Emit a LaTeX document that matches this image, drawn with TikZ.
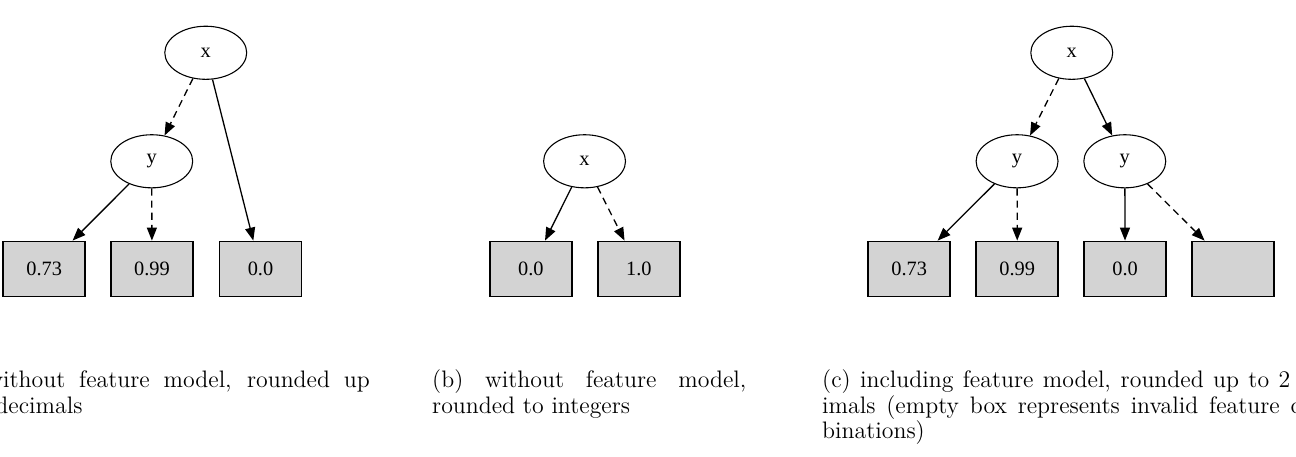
\documentclass[tikz,border=0pt]{standalone}
\usepackage{fontspec}
\newfontfamily\gvfont{Liberation Serif}
\usetikzlibrary{positioning,arrows.meta,shapes.geometric}
\definecolor{leafgray}{RGB}{211,211,211}

\begin{document}
\begin{tikzpicture}[
    var/.style ={draw, ellipse, line width=0.5pt, minimum width=37.8pt, minimum height=24.5pt,
                 inner sep=0pt, font=\gvfont\fontsize{9.4}{11}\selectfont},
    leaf/.style={draw, fill=leafgray, line width=0.8pt, minimum width=37.8pt, minimum height=25.4pt,
                 inner sep=0pt, font=\gvfont\fontsize{9.4}{11}\selectfont},
    hi/.style  ={-{Triangle[length=6pt, width=4.6pt]}, line width=0.6pt},
    lo/.style  ={hi, dash pattern=on 3.3pt off 2.3pt},
    sub/.style ={anchor=base west, inner sep=0pt, font=\fontsize{11}{13.6}\selectfont}
  ]
    \useasboundingbox (0,0) rectangle (21.02,7.396);
    \clip (0,0) rectangle (21.02,7.396);

    % (a) without feature model, 2 decimals
    \node[var] (xa) at (3.337,6.54) {x};
    \node[var] (ya) at (2.461,4.78) {y};
    \node[leaf] (a1) at (0.717,3.033) {0.73};
    \node[leaf] (a2) at (2.465,3.033) {0.99};
    \node[leaf] (a3) at (4.225,3.033) {0.0};

    % (b) without feature model, integers
    \node[var] (xb) at (9.481,4.78) {x};
    \node[leaf] (b1) at (8.610,3.033) {0.0};
    \node[leaf] (b2) at (10.361,3.033) {1.0};

    % (c) including feature model
    \node[var] (xc) at (17.383,6.54) {x};
    \node[var] (yc1) at (16.496,4.78) {y};
    \node[var] (yc2) at (18.243,4.78) {y};
    \node[leaf] (c1) at (14.747,3.033) {0.73};
    \node[leaf] (c2) at (16.499,3.033) {0.99};
    \node[leaf] (c3) at (18.248,3.033) {0.0};
    \node[leaf] (c4) at (20.0,3.033) {};

    \foreach \a/\b in {xa/a3, ya/a1, xb/b1, xc/yc2, yc1/c1, yc2/c3} \draw[hi] (\a) -- (\b);
    \foreach \a/\b in {xa/ya, ya/a2, xb/b2, xc/yc1, yc1/c2, yc2/c4} \draw[lo] (\a) -- (\b);

    % captions
    \node[sub] (capa1) at (-0.23,1.119) {\makebox[177pt][s]{without feature model, rounded up}};
    \node[sub] (capa2) at (-0.08,0.697) {decimals};
    \node[sub] (capb1) at (7.003,1.119) {\makebox[145pt][s]{(b) without feature model,}};
    \node[sub] (capb2) at (7.003,0.697) {rounded to integers};
    \node[sub] (capc1) at (13.328,1.119) {\makebox[216pt][s]{(c) including feature model, rounded up to 2}};
    \node[sub] (capc2) at (13.328,0.697) {\makebox[221pt][s]{imals (empty box represents invalid feature c}};
    \node[sub] (capc3) at (13.328,0.276) {binations)};
  \end{tikzpicture}
\end{document}
